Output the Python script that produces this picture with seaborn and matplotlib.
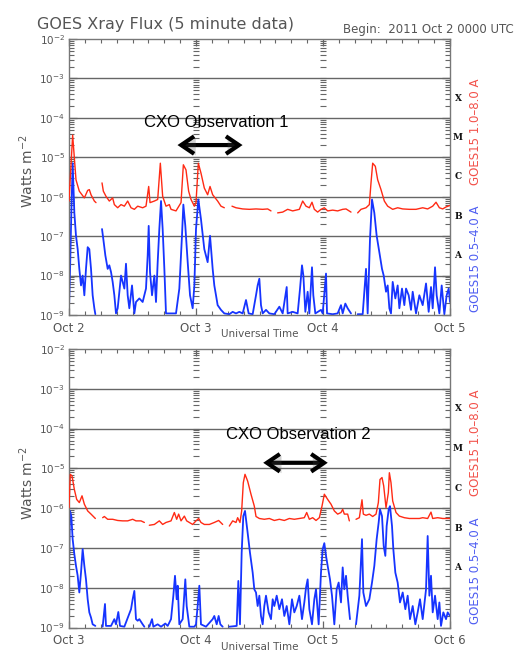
import numpy as np
import pandas as pd
import matplotlib
matplotlib.use("Agg")
import matplotlib.pyplot as plt
import matplotlib.patheffects as pe
from matplotlib.ticker import FixedLocator, LogLocator, NullFormatter, FixedFormatter
import seaborn as sns

sns.set_theme(style="white")
plt.rcParams["font.family"] = ["DejaVu Sans"]
plt.rcParams["mathtext.default"] = "regular"

# GOES-15 X-ray flux, 5-minute data.
# Each entry: (hours since panel start, log10 flux in W m^-2); NaN marks a data gap.
# Panel 1 starts 2011 Oct 2 00 UT, panel 2 starts 2011 Oct 3 00 UT.
nan = float("nan")

p1_long = [
    (0.0, -6.11), (0.69, -4.44), (1.32, -5.57), (1.95, -5.86), (2.90, -6.03), (3.53, -5.84),
    (3.84, -5.82), (4.16, -5.95), (4.79, -6.11), (5.10, -6.15), (5.6, nan), (6.24, -5.65),
    (6.49, -5.86), (6.99, -5.99), (7.62, -6.11), (8.25, -6.03), (8.57, -6.20), (9.20, -6.28),
    (9.83, -6.20), (10.46, -6.24), (11.09, -6.11), (11.72, -6.28), (12.35, -6.32), (12.98, -6.24),
    (13.92, -6.28), (14.55, -6.24), (15.06, -5.74), (15.31, -6.15), (16.13, -6.11), (16.76, -6.07),
    (17.26, -5.15), (17.70, -5.99), (18.33, -6.24), (18.96, -6.20), (19.28, -6.32), (20.22, -6.36),
    (21.17, -6.15), (21.61, -5.19), (22.11, -5.32), (22.61, -5.86), (23.06, -6.07), (23.69, -6.24),
    (24.0, -6.15), (24.44, -5.15), (24.94, -5.40), (25.57, -5.78), (26.20, -5.95), (26.65, -5.74),
    (27.15, -5.95), (28.09, -6.11), (28.72, -6.24), (29.35, -6.28), (30.0, nan), (30.80, -6.24),
    (31.56, -6.28), (32.82, -6.31), (34.08, -6.32), (35.34, -6.31), (36.60, -6.32), (37.54, -6.31),
    (38.17, -6.36), (38.8, nan), (39.43, -6.41), (40.38, -6.39), (41.32, -6.32), (42.27, -6.36),
    (43.53, -6.32), (44.16, -6.11), (44.79, -6.24), (45.42, -6.28), (45.92, -6.14), (46.36, -6.32),
    (46.99, -6.39), (47.62, -6.32), (48.25, -6.28), (48.88, -6.36), (49.83, -6.34), (50.77, -6.36),
    (51.72, -6.32), (52.35, -6.31), (53.29, -6.39), (53.9, nan), (54.55, -6.41), (55.18, -6.32),
    (56.13, -6.28), (56.76, -6.20), (57.07, -5.65), (57.39, -5.15), (57.89, -5.23), (58.33, -5.57),
    (58.96, -5.82), (59.59, -6.11), (60.22, -6.24), (61.17, -6.32), (62.11, -6.28), (63.06, -6.31),
    (64.32, -6.32), (65.58, -6.32), (66.84, -6.28), (67.78, -6.31), (68.73, -6.24), (69.36, -6.14),
    (69.99, -6.28), (70.62, -6.31), (71.25, -6.26), (72.0, -6.22),
]

p1_short = [
    (0.0, -8.83), (0.19, -7.91), (0.44, -6.41), (0.69, -5.15), (1.01, -6.41), (1.32, -6.99),
    (1.64, -7.33), (1.95, -7.83), (2.27, -8.25), (2.58, -8.00), (2.90, -8.50), (3.21, -7.83),
    (3.53, -7.28), (3.84, -7.33), (4.16, -7.83), (4.47, -8.50), (4.79, -8.83), (4.98, -8.98),
    (5.6, nan), (6.24, -6.82), (6.49, -7.08), (6.87, -7.49), (7.31, -7.83), (7.62, -7.74),
    (7.94, -7.91), (8.25, -8.16), (8.57, -8.50), (8.88, -8.96), (9.20, -8.83), (9.83, -8.00),
    (10.14, -8.16), (10.46, -8.33), (10.77, -7.70), (11.09, -8.50), (11.40, -8.83), (11.91, -8.25),
    (12.35, -8.96), (12.66, -8.67), (13.29, -8.58), (13.92, -8.67), (14.55, -8.33), (14.87, -7.49),
    (15.06, -6.74), (15.31, -7.91), (15.69, -8.50), (16.13, -8.00), (16.44, -8.67), (16.76, -7.66),
    (17.07, -6.82), (17.39, -6.11), (17.70, -6.82), (18.02, -7.83), (18.33, -8.96), (18.96, -8.96),
    (19.59, -8.96), (20.22, -8.96), (20.85, -8.33), (21.35, -6.99), (21.61, -6.20), (21.98, -6.74),
    (22.43, -7.66), (22.87, -8.50), (23.37, -8.83), (23.69, -8.25), (24.0, -6.82), (24.44, -6.07),
    (24.94, -6.57), (25.57, -7.33), (26.20, -7.66), (26.65, -6.99), (27.15, -7.83), (27.46, -8.25),
    (27.78, -8.50), (28.09, -8.75), (28.72, -8.87), (29.35, -8.96), (30.30, -8.98), (30.93, -8.92),
    (31.56, -8.96), (32.19, -8.92), (32.82, -8.96), (33.45, -8.62), (33.95, -8.96), (34.71, -8.98),
    (35.34, -8.50), (35.65, -8.25), (35.97, -8.08), (36.28, -8.75), (36.60, -8.96), (37.23, -8.87),
    (37.86, -8.96), (38.80, -8.98), (39.75, -8.79), (40.38, -8.96), (41.14, -8.29), (41.32, -8.96),
    (42.27, -8.92), (43.21, -8.96), (43.66, -8.33), (44.03, -7.74), (44.29, -8.00), (44.66, -8.92),
    (45.10, -8.41), (45.42, -8.96), (45.92, -7.79), (46.17, -8.50), (46.55, -8.96), (47.62, -8.87),
    (47.94, -8.96), (48.57, -7.95), (48.76, -8.96), (49.83, -8.98), (50.77, -8.96), (51.40, -8.75),
    (51.72, -8.96), (52.22, -8.71), (52.66, -8.83), (53.29, -8.96), (53.9, nan), (54.55, -8.98),
    (55.50, -8.98), (56.13, -7.83), (56.44, -8.96), (56.88, -7.08), (57.26, -6.07), (57.70, -6.41),
    (58.14, -6.99), (58.65, -7.41), (59.15, -7.83), (59.47, -8.00), (59.91, -8.41), (60.22, -8.25),
    (60.54, -8.83), (60.85, -8.96), (61.17, -8.16), (61.67, -8.58), (62.11, -8.25), (62.43, -8.83),
    (62.93, -8.33), (63.37, -8.75), (63.69, -8.33), (64.19, -8.50), (64.63, -8.87), (64.95, -8.41),
    (65.58, -8.96), (66.21, -8.50), (66.84, -8.75), (67.47, -8.20), (67.97, -8.92), (68.41, -8.29),
    (68.73, -8.83), (69.17, -7.79), (69.48, -8.50), (69.99, -8.96), (70.43, -8.25), (70.93, -8.98),
    (71.37, -8.50), (71.75, -8.33), (72.0, -8.67),
]

p2_long = [
    (0.0, -5.99), (0.25, -5.15), (0.57, -5.19), (1.01, -5.53), (1.45, -5.78), (1.95, -5.86),
    (2.46, -5.69), (2.90, -5.90), (3.53, -6.07), (4.16, -6.15), (4.98, -6.26), (5.6, nan),
    (6.36, -6.24), (6.68, -6.21), (7.31, -6.28), (8.25, -6.28), (9.20, -6.31), (10.14, -6.32),
    (11.09, -6.32), (12.03, -6.28), (12.66, -6.32), (13.61, -6.32), (14.24, -6.36), (14.7, nan),
    (15.18, -6.43), (16.13, -6.41), (17.07, -6.32), (17.70, -6.41), (18.33, -6.36), (19.28, -6.32),
    (19.91, -6.11), (20.35, -6.28), (20.72, -6.15), (21.17, -6.32), (21.80, -6.20), (22.24, -6.32),
    (22.74, -6.36), (23.37, -6.41), (24.0, -6.32), (24.50, -6.26), (24.94, -6.36), (25.57, -6.41),
    (26.52, -6.41), (27.46, -6.36), (28.28, -6.31), (29.04, -6.41), (29.7, nan), (30.30, -6.45),
    (30.93, -6.32), (31.56, -6.36), (31.87, -6.24), (32.31, -6.36), (32.63, -6.07), (32.94, -5.36),
    (33.26, -5.15), (33.76, -5.32), (34.39, -5.65), (35.02, -5.95), (35.34, -6.21), (35.97, -6.26),
    (36.91, -6.28), (37.86, -6.26), (38.80, -6.31), (39.75, -6.28), (40.69, -6.31), (41.64, -6.26),
    (42.58, -6.28), (43.53, -6.26), (44.47, -6.24), (44.92, -6.11), (45.42, -6.28), (46.05, -6.24),
    (46.68, -6.31), (47.31, -6.24), (47.81, -5.95), (48.25, -5.65), (48.88, -5.78), (49.51, -5.90),
    (50.14, -6.07), (50.77, -6.15), (51.40, -6.11), (51.72, -6.03), (52.03, -6.15), (52.66, -6.15),
    (52.98, -6.32), (53.6, nan), (54.24, -6.28), (54.87, -6.24), (55.37, -5.79), (55.62, -6.15),
    (56.13, -6.18), (56.76, -6.15), (57.39, -6.21), (58.02, -6.15), (58.46, -5.86), (58.77, -5.28),
    (59.15, -5.23), (59.47, -5.44), (59.91, -5.99), (60.35, -5.61), (60.54, -5.11), (60.85, -5.36),
    (61.17, -5.82), (61.80, -6.11), (62.43, -6.20), (63.37, -6.24), (64.32, -6.26), (65.26, -6.26),
    (66.21, -6.26), (66.84, -6.24), (67.78, -6.26), (68.41, -6.10), (68.73, -6.26), (69.67, -6.24),
    (70.62, -6.26), (71.56, -6.26), (72.0, -6.26),
]

p2_short = [
    (0.0, -7.62), (0.19, -6.07), (0.44, -6.20), (0.69, -6.78), (1.01, -7.16), (1.32, -7.45),
    (1.64, -7.70), (1.95, -8.12), (2.27, -7.62), (2.58, -7.03), (2.90, -7.45), (3.21, -7.79),
    (3.53, -8.29), (3.84, -8.62), (4.16, -8.75), (4.47, -8.92), (4.98, -8.96), (5.6, nan),
    (6.36, -8.98), (6.80, -8.41), (6.99, -8.96), (7.94, -8.96), (8.57, -8.79), (8.88, -8.92),
    (9.32, -8.61), (9.64, -8.96), (10.46, -8.98), (11.72, -8.54), (12.03, -8.29), (12.35, -8.08),
    (12.66, -8.79), (12.98, -8.83), (13.29, -8.79), (13.92, -8.92), (14.24, -8.98), (14.7, nan),
    (15.18, -8.98), (15.69, -8.79), (15.94, -8.98), (16.76, -8.92), (17.39, -8.98), (18.20, -8.90),
    (18.65, -8.96), (19.28, -8.79), (19.72, -8.20), (20.03, -7.70), (20.35, -8.29), (20.54, -7.95),
    (20.85, -8.92), (21.48, -8.79), (21.98, -7.79), (22.24, -8.46), (22.74, -8.98), (23.69, -8.98),
    (24.0, -8.92), (24.31, -8.46), (24.63, -7.95), (24.94, -8.92), (25.89, -8.98), (27.15, -8.79),
    (27.46, -8.71), (27.91, -8.92), (28.28, -8.71), (28.60, -8.92), (29.04, -8.98), (29.7, nan),
    (30.30, -8.98), (31.69, -8.96), (32.0, -7.83), (32.31, -8.92), (32.63, -7.12), (32.94, -6.20),
    (33.26, -6.07), (33.76, -6.62), (34.20, -7.12), (34.71, -7.62), (35.02, -8.04), (35.34, -8.12),
    (35.65, -8.46), (35.97, -8.20), (36.28, -8.71), (36.60, -8.92), (36.91, -8.46), (37.23, -8.20),
    (37.73, -8.62), (38.17, -8.79), (38.49, -8.29), (38.80, -8.46), (39.25, -8.20), (39.75, -8.54),
    (40.25, -8.29), (40.69, -8.71), (41.14, -8.46), (41.64, -8.92), (42.14, -8.29), (42.58, -8.62),
    (43.03, -8.46), (43.53, -8.20), (44.03, -8.79), (44.47, -8.37), (44.79, -8.00), (45.10, -7.79),
    (45.42, -8.54), (45.92, -8.92), (46.36, -8.29), (46.68, -8.04), (47.18, -8.92), (47.62, -7.62),
    (47.94, -7.03), (48.25, -6.88), (48.57, -7.20), (48.88, -7.45), (49.32, -7.79), (49.70, -8.20),
    (50.14, -8.92), (50.58, -8.04), (50.96, -7.87), (51.40, -8.37), (51.72, -7.49), (52.03, -8.04),
    (52.35, -7.70), (52.66, -8.20), (53.10, -8.79), (53.6, nan), (54.24, -8.92), (54.87, -8.20),
    (55.37, -6.78), (55.62, -8.12), (56.13, -8.46), (56.76, -8.29), (57.26, -7.87), (57.70, -7.45),
    (58.14, -6.78), (58.52, -6.36), (58.77, -6.03), (59.15, -6.20), (59.47, -6.95), (59.78, -7.20),
    (60.03, -6.45), (60.41, -6.03), (60.66, -5.95), (61.04, -6.45), (61.29, -7.03), (61.67, -7.62),
    (62.11, -7.87), (62.55, -8.37), (63.06, -8.12), (63.56, -8.54), (64.00, -8.20), (64.44, -8.79),
    (64.95, -8.46), (65.45, -8.92), (65.89, -8.62), (66.33, -8.29), (66.84, -8.79), (67.47, -8.04),
    (67.78, -6.70), (68.10, -8.20), (68.41, -7.70), (68.73, -8.62), (69.17, -8.20), (69.67, -8.79),
    (69.99, -8.37), (70.30, -8.96), (70.74, -8.62), (71.25, -8.79), (71.56, -8.62), (72.0, -8.71),
]

p1_day_labels = ["Oct 2", "Oct 3", "Oct 4", "Oct 5"]
p2_day_labels = ["Oct 3", "Oct 4", "Oct 5", "Oct 6"]
day_hours = [0, 24, 48, 72]

flare_classes = ["X", "M", "C", "B", "A"]
class_log_mid = [-3.5, -4.5, -5.5, -6.5, -7.5]

# CXO observation windows: (start hour, end hour) and log10 flux height of the arrow
obs_labels = ["CXO Observation 1", "CXO Observation 2"]
obs_windows = [(20.5, 32.8), (36.7, 48.9)]
obs_arrow_log = [-4.69, -4.86]
obs_text_pos = [(27.9, -4.11), (43.3, -4.14)]

LONG_COLOR = "#ff2a14"
SHORT_COLOR = "#1634ff"
LONG_LABEL_COLOR = "#f2514a"
SHORT_LABEL_COLOR = "#4f5ef2"
GRAY = "#555555"


def to_frame(points):
    df = pd.DataFrame(points, columns=["hour", "logflux"])
    df["segment"] = df["logflux"].isna().cumsum()
    df = df.dropna().copy()
    df["flux"] = 10.0 ** df["logflux"]
    return df


fig = plt.figure(figsize=(5.18, 6.55), dpi=100)
fig.patch.set_facecolor("white")

W, H = 518.0, 655.0
ax1 = fig.add_axes([69 / W, 1 - 315 / H, 381 / W, 276 / H])
ax2 = fig.add_axes([69 / W, 1 - 627.5 / H, 381 / W, 278.5 / H])

panels = [
    (ax1, p1_long, p1_short, p1_day_labels, 0),
    (ax2, p2_long, p2_short, p2_day_labels, 1),
]

minor_vals = np.array([k * 10.0 ** n for n in range(-9, -2) for k in range(1, 10)] + [1e-2])

for ax, long_pts, short_pts, day_labels, idx in panels:
    ax.set_facecolor("white")
    ax.set_yscale("log")

    # decade grid lines
    for n in range(-8, -2):
        ax.axhline(10.0 ** n, color="#666666", lw=1.0, zorder=1)

    # log tick ladders along each interior day boundary
    for d in day_hours[1:-1]:
        ax.plot(np.full(minor_vals.size, d), minor_vals, ls="none", marker="_",
                ms=5, mew=0.8, color="#666666", zorder=1)

    sns.lineplot(data=to_frame(long_pts), x="hour", y="flux", units="segment",
                 estimator=None, sort=False, color=LONG_COLOR, lw=1.0, ax=ax,
                 legend=False, zorder=3)
    sns.lineplot(data=to_frame(short_pts), x="hour", y="flux", units="segment",
                 estimator=None, sort=False, color=SHORT_COLOR, lw=1.3, ax=ax,
                 legend=False, zorder=2)

    ax.set_xlim(0, 72)
    ax.set_ylim(1e-9, 1e-2)
    ax.set_xlabel("")
    ax.set_ylabel("")

    ax.xaxis.set_major_locator(FixedLocator(day_hours))
    ax.xaxis.set_major_formatter(FixedFormatter(day_labels))
    ax.xaxis.set_minor_locator(FixedLocator(np.arange(0, 73, 3)))
    ax.yaxis.set_major_locator(LogLocator(base=10, numticks=20))
    ax.yaxis.set_minor_locator(LogLocator(base=10, subs=np.arange(2, 10), numticks=20))
    ax.yaxis.set_minor_formatter(NullFormatter())

    ax.tick_params(axis="x", which="both", direction="in", top=True, bottom=True,
                   colors="#666666", labelcolor=GRAY, labelsize=8.5, pad=5)
    ax.tick_params(axis="x", which="major", length=5, width=0.9)
    ax.tick_params(axis="x", which="minor", length=3, width=0.8)
    ax.tick_params(axis="y", which="both", direction="in", left=True, right=True,
                   colors="#666666", labelcolor=GRAY, labelsize=7.5, pad=3)
    ax.tick_params(axis="y", which="major", length=6, width=0.9)
    ax.tick_params(axis="y", which="minor", length=3.6, width=0.8)

    for sp in ax.spines.values():
        sp.set_color("#777777")
        sp.set_linewidth(1.0)
        sp.set_visible(True)

    ax.text(0.5, -0.07, "Universal Time", transform=ax.transAxes, ha="center",
            va="center", fontsize=7.5, color=GRAY)
    ax.text(-0.112, 0.52, "Watts m$^{-2}$", transform=ax.transAxes, rotation=90,
            ha="center", va="center", fontsize=10, color=GRAY)

    # GOES flare class letters on the right
    tr = ax.get_yaxis_transform()
    for letter, lg in zip(flare_classes, class_log_mid):
        ax.text(1.021, 10.0 ** lg, letter, transform=tr, ha="center", va="center",
                fontsize=6.5, fontweight="bold", family="DejaVu Serif", color="#111111")

    ax.text(1.066, 0.665, "GOES15 1.0\u20138.0 A", transform=ax.transAxes, rotation=90,
            ha="center", va="center", fontsize=8.5, color=LONG_LABEL_COLOR)
    ax.text(1.066, 0.202, "GOES15 0.5\u20134.0 A", transform=ax.transAxes, rotation=90,
            ha="center", va="center", fontsize=8.5, color=SHORT_LABEL_COLOR)

    # CXO observation window
    t0, t1 = obs_windows[idx]
    ya = 10.0 ** obs_arrow_log[idx]
    ax.annotate("", xy=(t1, ya), xytext=(t0, ya), xycoords="data", textcoords="data",
                arrowprops=dict(arrowstyle="<->,head_length=0.62,head_width=0.42",
                                lw=3.0, color="black", mutation_scale=15,
                                shrinkA=0, shrinkB=0, joinstyle="miter", capstyle="butt",
                                path_effects=[pe.SimplePatchShadow(offset=(1.2, -1.2), alpha=0.25),
                                              pe.Normal()]),
                zorder=5)
    tx, tl = obs_text_pos[idx]
    ax.text(tx, 10.0 ** tl, obs_labels[idx], ha="center", va="center", fontsize=12,
            family="Liberation Sans", color="black", zorder=5)

fig.text(37 / W, 1 - 25 / H, "GOES Xray Flux (5 minute data)", ha="left", va="center",
         fontsize=11.5, color=GRAY)
fig.text(514 / W, 1 - 29 / H, "Begin:  2011 Oct 2 0000 UTC", ha="right", va="center",
         fontsize=8.5, color=GRAY)

fig.savefig("out.png", dpi=100, facecolor="white")
